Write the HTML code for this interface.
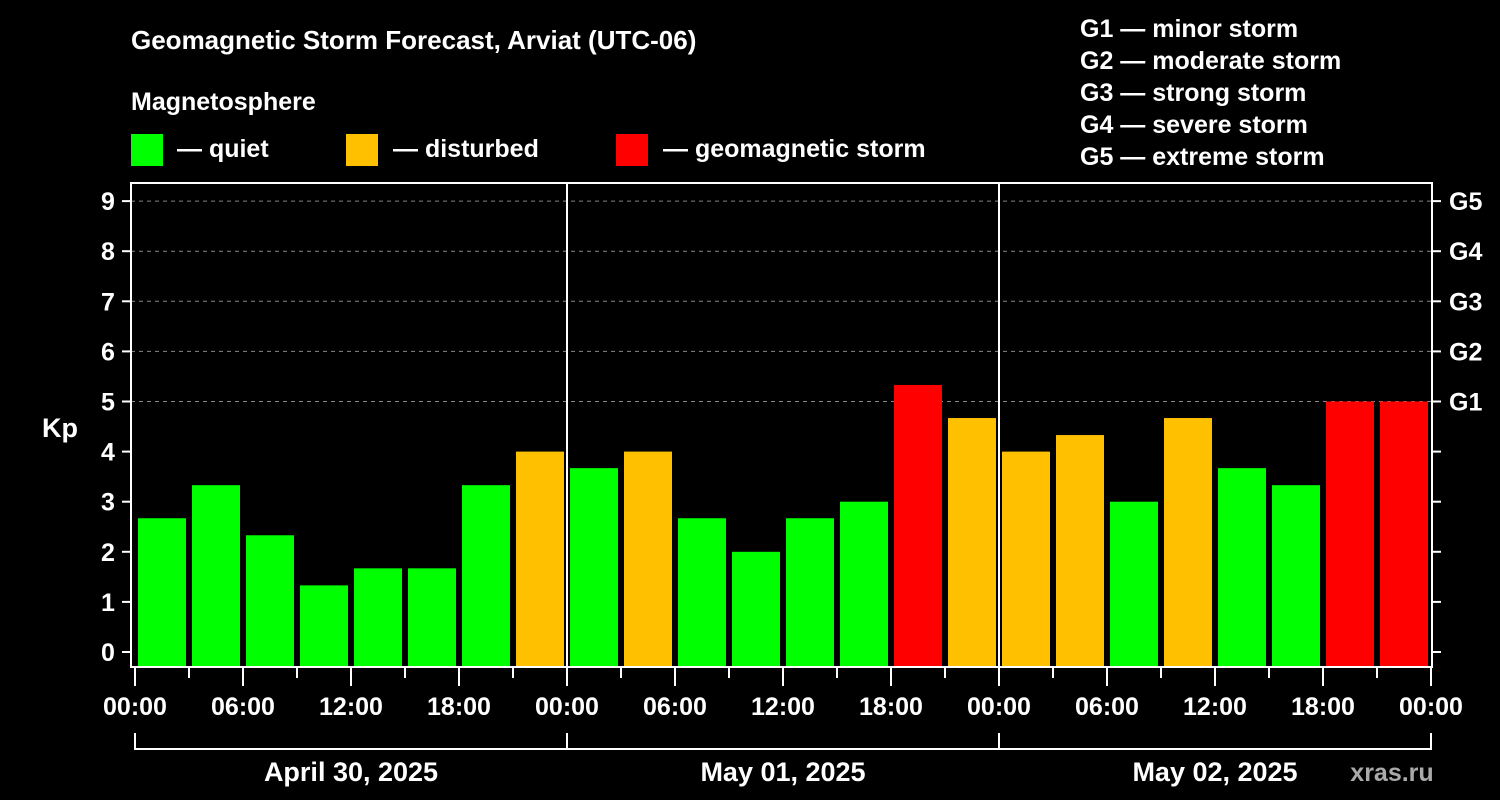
<!DOCTYPE html>
<html><head><meta charset="utf-8"><style>
body{margin:0;background:#000;}
svg{display:block;font-family:"Liberation Sans",sans-serif;font-weight:bold;}
</style></head><body>
<svg width="1500" height="800" viewBox="0 0 1500 800">
<rect width="1500" height="800" fill="#000"/>
<text x="131" y="49" fill="#fff" font-size="26">Geomagnetic Storm Forecast, Arviat (UTC-06)</text>
<text x="131" y="110" fill="#fff" font-size="25">Magnetosphere</text>
<g><rect x="131" y="134" width="32" height="32" fill="#00ff00"/><text x="177" y="157" fill="#fff" font-size="25">— quiet</text></g>
<g><rect x="346" y="134" width="32" height="32" fill="#ffc000"/><text x="393" y="157" fill="#fff" font-size="25">— disturbed</text></g>
<g><rect x="616" y="134" width="32" height="32" fill="#ff0000"/><text x="663" y="157" fill="#fff" font-size="25">— geomagnetic storm</text></g>
<g fill="#fff" font-size="25">
<text x="1080" y="37">G1 — minor storm</text>
<text x="1080" y="69">G2 — moderate storm</text>
<text x="1080" y="101">G3 — strong storm</text>
<text x="1080" y="133">G4 — severe storm</text>
<text x="1080" y="165">G5 — extreme storm</text>
</g>
<text x="42" y="437" fill="#fff" font-size="27">Kp</text>
<g id="grid"></g>
<g id="bars"></g>
<g id="axes"></g>
<text x="1392" y="781" fill="#aaa" font-size="25" text-anchor="middle">xras.ru</text>
</svg>
<script>
const values=[2.67,3.33,2.33,1.33,1.67,1.67,3.33,4.0,3.67,4.0,2.67,2.0,2.67,3.0,5.33,4.67,4.0,4.33,3.0,4.67,3.67,3.33,5.0,5.0];
const days=["April 30, 2025","May 01, 2025","May 02, 2025"];
const hourLabels=["00:00","06:00","12:00","18:00"];
const kpTicks=[0,1,2,3,4,5,6,7,8,9];
const gLabels=["G1","G2","G3","G4","G5"];
const NS="http://www.w3.org/2000/svg";
const X0=135,SLOT=54,Y0=652,UNIT=50.1;
const xs=i=>X0+i*SLOT;
const ys=k=>Y0-k*UNIT;
function mk(tag,attrs,parent){const e=document.createElementNS(NS,tag);for(const k in attrs)e.setAttribute(k,attrs[k]);parent.appendChild(e);return e;}
const grid=document.getElementById('grid'),bars=document.getElementById('bars'),axes=document.getElementById('axes');
const xEnd=xs(values.length);
kpTicks.forEach(k=>{
 if(k>=5){const l=mk('line',{x1:131,x2:1432,y1:ys(k),y2:ys(k),stroke:'#888','stroke-width':1,'stroke-dasharray':'4,4'},grid);
 
 }
 const t=mk('line',{x1:122,x2:131,y1:ys(k),y2:ys(k),stroke:'#fff','stroke-width':2},axes);
 
 
 const t2=mk('line',{x1:1432,x2:1441,y1:ys(k),y2:ys(k),stroke:'#fff','stroke-width':2},axes);
 
 
 const lb=mk('text',{x:108,y:ys(k)+9,fill:'#fff','font-size':25,'text-anchor':'middle'},axes);
 lb.textContent=k;
 
 
});
gLabels.forEach((g,i)=>{
 const lb=mk('text',{x:1449,y:ys(5+i)+9,fill:'#fff','font-size':25},axes);
 lb.textContent=g;
 
 
});
values.forEach((v,i)=>{
 const c=v>=5?'#ff0000':(v>=4?'#ffc000':'#00ff00');
 const r=mk('rect',{x:xs(i)+3,y:ys(v),width:SLOT-6,height:667-ys(v),fill:c},bars);
 
 
});
const fr=mk('rect',{x:131,y:183,width:1301,height:484,fill:'none',stroke:'#fff','stroke-width':2},axes);


days.forEach((d,j)=>{
 if(j>0){const l=mk('line',{x1:xs(j*8),x2:xs(j*8),y1:183,y2:667,stroke:'#fff','stroke-width':2},axes);
 
 }
 const b=mk('path',{d:`M${xs(j*8)} 733V749H${xs(j*8+8)}V733`,fill:'none',stroke:'#fff','stroke-width':2},axes);
 
 
 const t=mk('text',{x:(xs(j*8)+xs(j*8+8))/2,y:781,fill:'#fff','font-size':27,'text-anchor':'middle'},axes);
 t.textContent=d;
 
 
});
for(let i=0;i<=values.length;i++){
 const major=i%2===0;
 const t=mk('line',{x1:xs(i),x2:xs(i),y1:667,y2:major?686:678,stroke:'#fff','stroke-width':2},axes);
 
 
 if(major){const lb=mk('text',{x:xs(i),y:715,fill:'#fff','font-size':25,'text-anchor':'middle'},axes);
 lb.textContent=hourLabels[(i/2)%4];
 
 }
}
</script>
</body></html>
